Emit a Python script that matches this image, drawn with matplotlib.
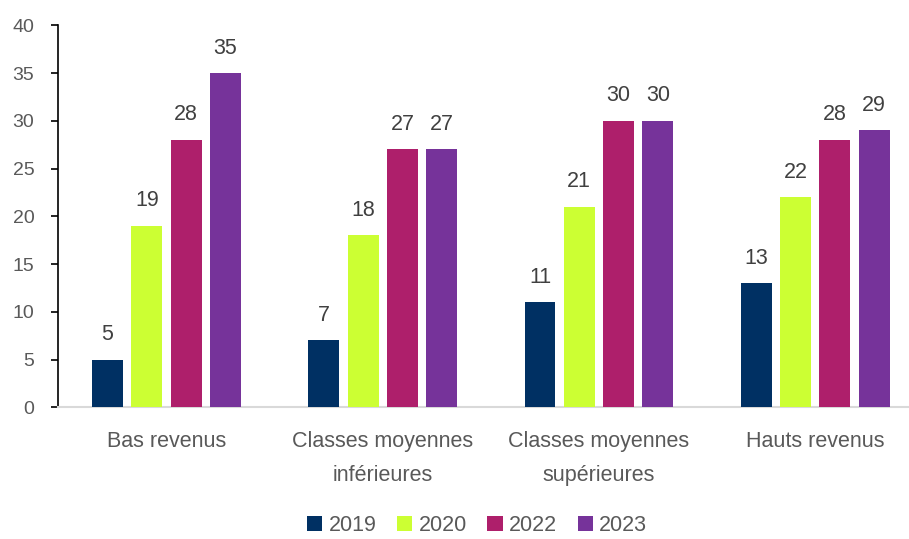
import numpy as np
import matplotlib.pyplot as plt

plt.rcParams['font.family'] = ['Liberation Sans', 'DejaVu Sans']

# -----------------------------
# Data
# -----------------------------
categories = ["Bas revenus", "Classes moyennes\ninférieures",
              "Classes moyennes\nsupérieures", "Hauts revenus"]
years = ["2019", "2020", "2022", "2023"]
values_2019 = [5, 7, 11, 13]
values_2020 = [19, 18, 21, 22]
values_2022 = [28, 27, 30, 28]
values_2023 = [35, 27, 30, 29]

series = [values_2019, values_2020, values_2022, values_2023]
colors = ["#003063", "#CCFF33", "#AE1F6B", "#76339A"]

# -----------------------------
# Figure
# -----------------------------
fig = plt.figure(figsize=(9.09, 5.39), dpi=100)
ax = fig.add_axes([58 / 909, (539 - 407.3) / 539, 1 - 58 / 909, (407.3 - 25.3) / 539])

x = np.arange(len(categories))
step = 0.1818
width = 0.143

for i, (vals, col, yr) in enumerate(zip(series, colors, years)):
    pos = x + (i - 1.5) * step
    ax.bar(pos, vals, width=width, color=col, label=yr, zorder=3)
    for px, v in zip(pos, vals):
        ax.annotate(str(v), (px, v), xytext=(0, 14), textcoords="offset points",
                    ha="center", va="baseline", fontsize=15.5, color="#404040")

ax.set_xlim(-0.502, 3.434)
ax.set_ylim(0, 40)
ax.set_yticks(range(0, 41, 5))

ax.set_xticks(x)
ax.set_xticklabels(categories, fontsize=15.5, color="#595959", linespacing=1.84)
ax.tick_params(axis="x", length=0, pad=17)
ax.tick_params(axis="y", length=5, width=1.2, color="black", pad=12,
               labelsize=14, labelcolor="#595959")

for s in ["top", "right"]:
    ax.spines[s].set_visible(False)
ax.spines["left"].set_color("black")
ax.spines["left"].set_linewidth(1.2)
ax.spines["bottom"].set_color("#d9d9d9")
ax.spines["bottom"].set_linewidth(1.5)

fig.legend(loc="lower center", bbox_to_anchor=(0.525, -0.03), ncol=4, frameon=False,
           fontsize=15.5, labelcolor="#595959", handlelength=0.7, handleheight=0.7,
           handletextpad=0.3, columnspacing=0.95)

fig.savefig("out.png", dpi=100)
